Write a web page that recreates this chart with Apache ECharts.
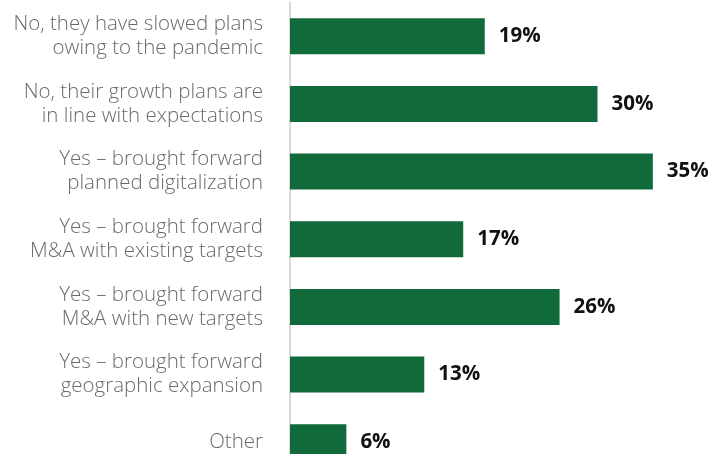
<!DOCTYPE html>
<html>
<head>
<meta charset="utf-8">
<script src="https://cdn.jsdelivr.net/npm/echarts@6/dist/echarts.min.js"></script>
<style>html,body{margin:0;padding:0;background:#fff;overflow:hidden;width:717px;height:454px;}#c{width:717px;height:477px;}</style>
</head>
<body>
<div id="c"></div>
<script>
var categories = [
  'No, they have slowed plans\nowing to the pandemic',
  'No, their growth plans are\nin line with expectations',
  'Yes \u2013 brought forward\nplanned digitalization',
  'Yes \u2013 brought forward\nM&A with existing targets',
  'Yes \u2013 brought forward\nM&A with new targets',
  'Yes \u2013 brought forward\ngeographic expansion',
  'Other'
];
var values = [19, 30, 35.4, 16.9, 26.3, 13.1, 5.5];

var chart = echarts.init(document.getElementById('c'));
chart.setOption({
  animation: false,
  grid: { left: 290, top: 2.5, bottom: 1, right: 17, containLabel: false },
  xAxis: { type: 'value', min: 0, max: 40, show: false, splitLine: { show: false } },
  yAxis: {
    type: 'category',
    data: categories,
    inverse: true,
    axisLine: { show: true, lineStyle: { color: '#d9d9d9', width: 2 } },
    axisTick: { show: false },
    axisLabel: {
      margin: 27,
      fontFamily: 'Open Sans',
      fontWeight: 300,
      fontSize: 20.5,
      lineHeight: 24,
      color: '#6a6a6a',
      align: 'right'
    }
  },
  series: [{
    type: 'bar',
    data: values,
    barWidth: 36,
    itemStyle: { color: '#106a3a' },
    label: {
      show: true,
      position: 'right',
      distance: 14,
      fontFamily: 'Open Sans',
      fontWeight: 'bold',
      fontSize: 20.5,
      color: '#111',
      formatter: function (p) { return Math.round(p.value) + '%'; }
    }
  }]
});
</script>
</body>
</html>
